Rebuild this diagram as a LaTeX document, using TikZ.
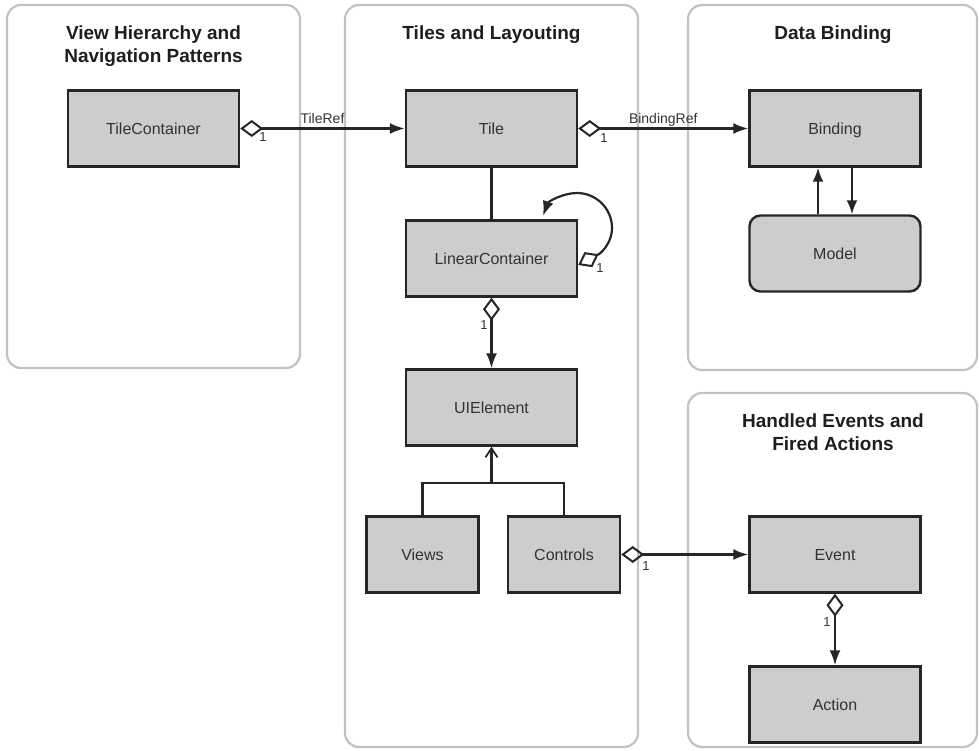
\documentclass[tikz,border=0pt]{standalone}
\usepackage{fontspec}
\setmainfont{Liberation Sans}
\usetikzlibrary{arrows.meta,calc}
\definecolor{boxfill}{HTML}{CDCDCD}
\definecolor{boxline}{HTML}{262626}
\definecolor{panelline}{HTML}{C2C2C2}
\definecolor{txt}{HTML}{333333}
\definecolor{ttl}{HTML}{1E1E1E}
\begin{document}
\begin{tikzpicture}[x=1pt,y=-1pt,
 panel/.style={draw=panelline,line width=2.2pt,rounded corners=14pt},
 cls/.style={draw=boxline,fill=boxfill,line width=2.4pt,minimum width=171pt,minimum height=76pt,inner sep=0pt,text=txt,font=\fontsize{16}{19}\selectfont,text height=11.5pt,text depth=0pt},
 small/.style={cls,minimum width=112pt},
 title/.style={font=\fontsize{19}{23}\selectfont\bfseries,text=ttl,anchor=base,inner sep=0pt},
 lbl/.style={font=\fontsize{14}{16}\selectfont,text=txt,inner sep=0pt},
 one/.style={font=\fontsize{13}{15}\selectfont,text=txt,inner sep=0pt},
 conn/.style={draw=boxline,line width=2.2pt},
 dia/.style={{Diamond[open,length=23pt,width=17pt,line width=2pt]}-},
 nav/.style={conn,-{Latex[length=14pt,width=11pt]}},
 aggr/.style={conn,{Diamond[open,length=23pt,width=17pt,line width=2pt]}-{Latex[length=15pt,width=11pt]}},
 inh/.style={conn,-{Straight Barb[length=9pt,width=12pt,line width=1.8pt]}},
]
\useasboundingbox (0,0) rectangle (979,750);
% panels
\draw[panel] (7,5) rectangle (300,368);
\draw[panel] (345,5) rectangle (638,747);
\draw[panel] (688,5) rectangle (977,370);
\draw[panel] (688,393) rectangle (977,747);
% titles
\node[title] (t1a) at (153.5,39) {View Hierarchy and};
\node[title] (t1b) at (153.5,62) {Navigation Patterns};
\node[title] (t2) at (491.5,39) {Tiles and Layouting};
\node[title] (t3) at (833,39) {Data Binding};
\node[title] (t4a) at (833,427) {Handled Events and};
\node[title] (t4b) at (833,450) {Fired Actions};
% classes
\node[cls] (tc) at (153.5,128.5) {TileContainer};
\node[cls] (tile) at (491.5,128.5) {Tile};
\node[cls] (bind) at (835,128.5) {Binding};
\node[cls,rounded corners=11pt] (model) at (835,253.5) {Model};
\node[cls] (lc) at (491.5,258.5) {LinearContainer};
\node[cls] (ui) at (491.5,407.5) {UIElement};
\node[small] (views) at (422.5,554.5) {Views};
\node[small] (ctrl) at (564,554.5) {Controls};
\node[cls] (event) at (835,554.5) {Event};
\node[cls] (action) at (835,704.5) {Action};
% associations
\draw[aggr] (tc.east) -- (tile.west) node[lbl,midway,anchor=base,yshift=5pt] (l1) {TileRef};
\node[one] (n1) at (263,137) {1};
\draw[aggr] (tile.east) -- (bind.west) node[lbl,midway,anchor=base,yshift=5pt] (l2) {BindingRef};
\node[one] (n2) at (604,138) {1};
\draw[conn] (tile.south) -- (lc.north);
% self loop
\coordinate (loopS) at (lc.east |- 0,265);
\coordinate (loopD) at (600,253.5);
\coordinate (loopE) at (543,216);
\draw[conn,dia] (loopS) -- (loopD);
\draw[conn,-{Latex[length=15pt,width=11pt]}]
  (loopD) .. controls (607,247) and (612,238.3) .. (612,228)
  .. controls (612,208.7) and (596.3,193) .. (577,193)
  .. controls (562.3,193) and (548,202) .. (loopE);
\node[one] (n3) at (600,268) {1};
\draw[aggr] (lc.south) -- (ui.north);
\node[one] (n4) at (484,325) {1};
% inheritance
\coordinate (j) at (ui.south |- 0,483);
\draw[conn] (views.north) |- (j) -| (ctrl.north);
\draw[inh] (j) -- (ui.south);
% controls -> event
\draw[aggr] (ctrl.east) -- (event.west);
\node[one] (n5) at (646,566) {1};
\draw[aggr] (event.south) -- (action.north);
\node[one] (n6) at (827,622) {1};
% binding <-> model
\draw[nav] ([xshift=-17pt]model.north) -- ([xshift=-17pt]bind.south);
\draw[nav] ([xshift=17pt]bind.south) -- ([xshift=17pt]model.north);
\end{tikzpicture}
\end{document}
